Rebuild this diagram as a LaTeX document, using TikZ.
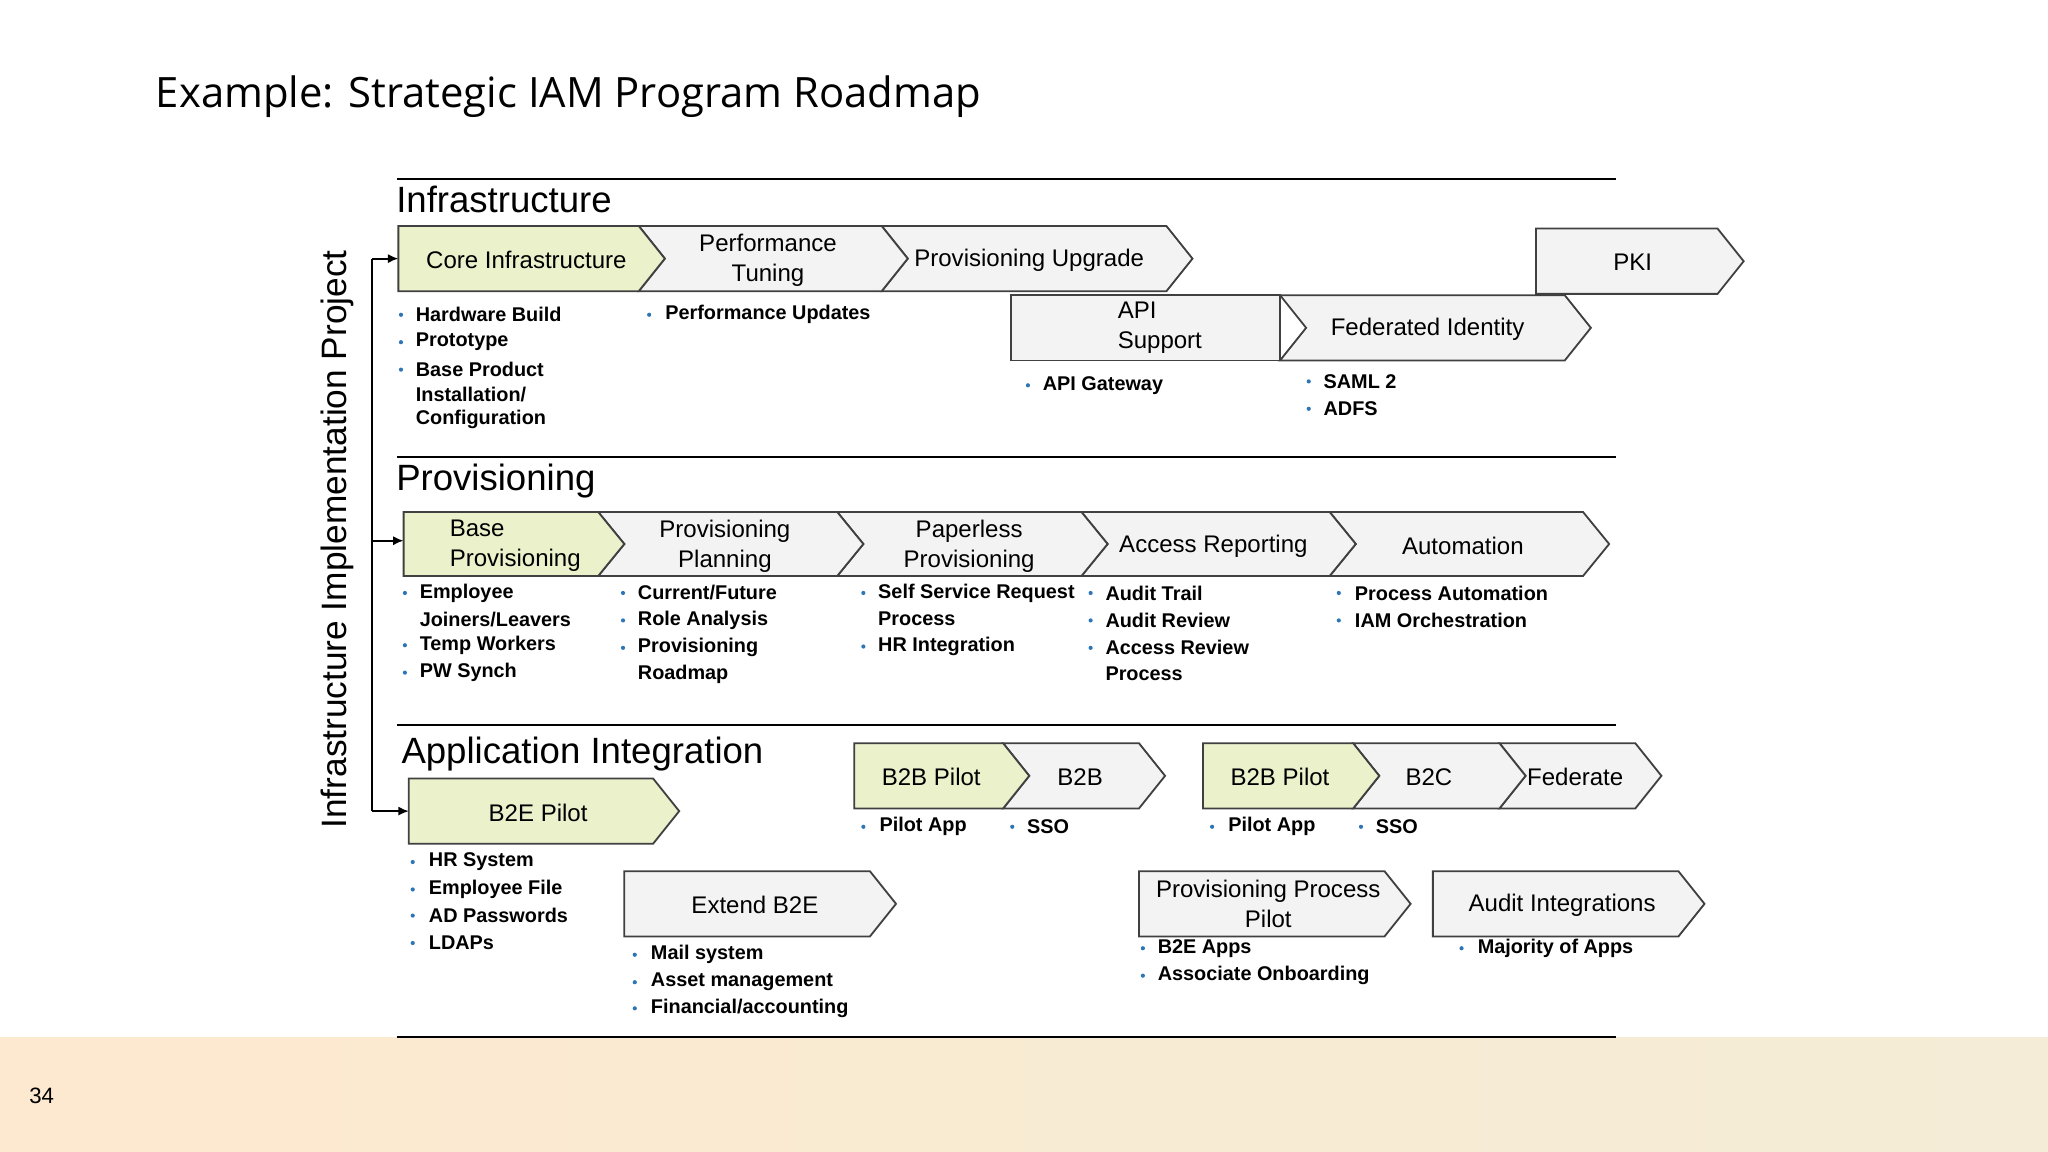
\documentclass[tikz,border=0pt]{standalone}
\usepackage{fontspec}
\usetikzlibrary{arrows.meta}
\setmainfont{Liberation Sans}
\newfontfamily\titlefont{Open Sans}
\definecolor{gr}{HTML}{EAF1CB}
\definecolor{lg}{HTML}{F3F3F3}
\definecolor{bd}{HTML}{404040}
\definecolor{bu}{HTML}{2E75B6}
\newcommand\chev[6]{% xl, xr, yt, yb, notch, fill
  \draw[box,fill=#6] (#1,#3) -- (#2,#3) -- ({#2+20},{(#3+#4)/2}) -- (#2,#4) -- (#1,#4) -- ({#1+20*#5},{(#3+#4)/2}) -- cycle;}
\newcommand\bl[4]{% bulletx, textx, y, text
  \fill[bu] (#1,#3) circle (1.6);
  \node[bt] at (#2,#3) {#4};}
\newcommand\nl[3]{\node[bt] at (#1,#2) {#3};}
\begin{document}
\begin{tikzpicture}[x=0.5pt,y=-0.5pt,
  box/.style={draw=bd,line width=0.7pt},
  lab/.style={font=\fontsize{9.2}{11.5}\selectfont,align=center,inner sep=0pt},
  bt/.style={anchor=west,font=\fontsize{7.6}{9}\selectfont\bfseries,inner sep=0pt},
  sec/.style={anchor=west,font=\fontsize{14}{16}\selectfont,inner sep=0pt},
  rule/.style={line width=1pt,black},
  arr/.style={-{Latex[length=4pt,width=3.5pt]},line width=0.7pt}]
\useasboundingbox (0,0) rectangle (1568,882);
\shade[left color={rgb,255:red,253;green,233;blue,207},right color={rgb,255:red,244;green,236;blue,214}] (0,794) rectangle (1568,882);
\node[anchor=west,inner sep=0pt] (pg) at (22,839) {\fontsize{8.5}{10}\selectfont 34};
\node[anchor=west,inner sep=0pt,font=\titlefont\fontsize{16}{19}\selectfont] (title) at (119,74) {Example: Strategic IAM Program Roadmap};
% rules
\foreach \y in {137,350,555,794} \draw[rule] (304,\y) -- (1237,\y);
\node[sec] (s1) at (303,153) {Infrastructure};
\node[sec] (s2) at (303,368) {Provisioning};
\node[sec] (s3) at (307,577) {Application Integration};
\node[rotate=90,font=\fontsize{13.5}{16}\selectfont,inner sep=0pt] (vt) at (258,413) {Infrastructure Implementation Project};
% bracket
\coordinate (b1) at (285,198); \coordinate (b2) at (285,414); \coordinate (b3) at (285,621);
\coordinate (t1) at (305,198); \coordinate (t2) at (309,414); \coordinate (t3) at (313,621);
\draw[line width=0.7pt] (b1) -- (b3);
\draw[arr] (b1) -- (t1); \draw[arr] (b2) -- (t2); \draw[arr] (b3) -- (t3);
% Infrastructure row
\chev{675}{893}{173}{223}{1}{lg}
\chev{489}{675}{173}{223}{1}{lg}
\chev{305}{489}{173}{223}{0}{gr}
\node[lab] (n1) at (403,199) {Core Infrastructure};
\node[lab] (n2) at (588,199) {Performance\\Tuning};
\node[lab] (n3) at (788,199) {Provisioning Upgrade};
\chev{1176}{1315}{175}{225}{0}{lg}
\node[lab] (n4) at (1250,201) {PKI};
\chev{980}{1198}{226}{276}{1}{lg}
\draw[box,fill=lg] (774,226) rectangle (980,276);
\node[lab,align=left] (n5) at (888,251) {API\\\hspace*{0pt}Support};
\node[lab] (n6) at (1093,252) {Federated Identity};
\bl{307}{318}{241}{Hardware Build}
\bl{307}{318}{262}{Prototype}
\bl{307}{318}{283}{Base Product}
\nl{318}{302}{Installation/}
\nl{318}{321}{Configuration}
\bl{497}{509}{241}{Performance Updates}
\bl{787}{798}{295}{API Gateway}
\bl{1002}{1013}{292}{SAML 2}
\bl{1002}{1013}{313}{ADFS}
% Provisioning row
\chev{1018}{1212}{392}{441}{1}{lg}
\chev{828}{1018}{392}{441}{1}{lg}
\chev{641}{828}{392}{441}{1}{lg}
\chev{458}{641}{392}{441}{1}{lg}
\chev{309}{458}{392}{441}{0}{gr}
\node[lab,align=left,anchor=west] (p1) at (344,418) {Base\\Provisioning};
\node[lab] (p2) at (555,418) {Provisioning\\Planning};
\node[lab] (p3) at (742,418) {Paperless\\Provisioning};
\node[lab] (p4) at (929,418) {Access Reporting};
\node[lab] (p5) at (1120,418) {Automation};
\bl{310}{321}{454}{Employee}
\nl{321}{474}{Joiners/Leavers}
\bl{310}{321}{494}{Temp Workers}
\bl{310}{321}{515}{PW Synch}
\bl{477}{488}{454}{Current/Future}
\bl{477}{488}{475}{Role Analysis}
\bl{477}{488}{496}{Provisioning}
\nl{488}{516}{Roadmap}
\bl{661}{672}{454}{Self Service Request}
\nl{672}{474}{Process}
\bl{661}{672}{495}{HR Integration}
\bl{835}{846}{454}{Audit Trail}
\bl{835}{846}{475}{Audit Review}
\bl{835}{846}{496}{Access Review}
\nl{846}{516}{Process}
\bl{1025}{1037}{454}{Process Automation}
\bl{1025}{1037}{475}{IAM Orchestration}
% Application integration
\chev{313}{500}{596}{646}{0}{gr}
\node[lab] (a1) at (412,622) {B2E Pilot};
\chev{768}{872}{569}{619}{1}{lg}
\chev{654}{768}{569}{619}{0}{gr}
\node[lab] (a2) at (713,595) {B2B Pilot};
\node[lab] (a3) at (827,595) {B2B};
\chev{1148}{1252}{569}{619}{1}{lg}
\chev{1036}{1148}{569}{619}{1}{lg}
\chev{921}{1036}{569}{619}{0}{gr}
\node[lab] (a4) at (980,595) {B2B Pilot};
\node[lab] (a5) at (1094,595) {B2C};
\node[lab] (a6) at (1206,595) {Federate};
\chev{478}{666}{667}{717}{0}{lg}
\node[lab] (a7) at (578,693) {Extend B2E};
\chev{872}{1060}{667}{717}{0}{lg}
\node[lab] (a8) at (971,692) {Provisioning Process\\Pilot};
\chev{1097}{1285}{667}{717}{0}{lg}
\node[lab] (a9) at (1196,693) {Audit Integrations};
\bl{661}{673}{633}{Pilot App}
\bl{775}{786}{633}{SSO}
\bl{928}{940}{633}{Pilot App}
\bl{1042}{1053}{633}{SSO}
\bl{316}{328}{660}{HR System}
\bl{316}{328}{681}{Employee File}
\bl{316}{328}{701}{AD Passwords}
\bl{316}{328}{722}{LDAPs}
\bl{486}{498}{731}{Mail system}
\bl{486}{498}{752}{Asset management}
\bl{486}{498}{772}{Financial/accounting}
\bl{875}{886}{726}{B2E Apps}
\bl{875}{886}{747}{Associate Onboarding}
\bl{1119}{1131}{726}{Majority of Apps}
\end{tikzpicture}
\end{document}
